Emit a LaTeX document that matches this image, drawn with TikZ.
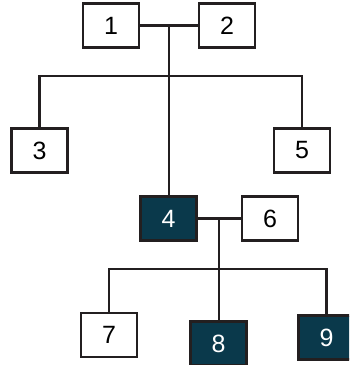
\documentclass[tikz,border=0pt]{standalone}
\usepackage{fontspec}
\setmainfont{Liberation Sans}
\usetikzlibrary{calc}
\definecolor{famteal}{RGB}{10,57,75}
\definecolor{famline}{RGB}{35,31,32}
\begin{document}
\begin{tikzpicture}[x=1pt,y=-1pt,
  person/.style={draw=famline, line width=2.2pt, fill=white, minimum width=56pt, minimum height=44pt, inner sep=0, font=\fontsize{25}{28}\selectfont},
  carrier/.style={person, fill=famteal, text=white},
  link/.style={famline, line width=2.2pt}]
\clip (0,0) rectangle (349,365);
% first generation
\node[person] (p1) at (111,25.5) {1};
\node[person] (p2) at (227,25.5) {2};
% second generation
\node[person] (p3) at (39.5,150.5) {3};
\node[carrier] (p4) at (168.5,218.5) {4};
\node[person] (p5) at (302,150.5) {5};
\node[person] (p6) at (270,218.5) {6};
% third generation
\node[person] (p7) at (109,335) {7};
\node[carrier] (p8) at (218.5,343.5) {8};
\node[carrier] (p9) at (326.5,337.5) {9};
% couples and children
\coordinate (j12) at ($(p1.east)!.5!(p2.west)$);
\coordinate (bar1) at (j12 |- 0,76);
\draw[link] (p1.east) -- (p2.west);
\draw[link] (j12) -- (j12 |- p4.north);
\draw[link] (p3.north) |- (bar1) -| (p5.north);
\coordinate (j46) at ($(p4.east)!.5!(p6.west)$);
\coordinate (bar2) at (j46 |- 0,269);
\draw[link] (p4.east) -- (p6.west);
\draw[link] (j46) -- (j46 |- p8.north);
\draw[link] (p7.north) |- (bar2) -| (p9.north);
\end{tikzpicture}
\end{document}
